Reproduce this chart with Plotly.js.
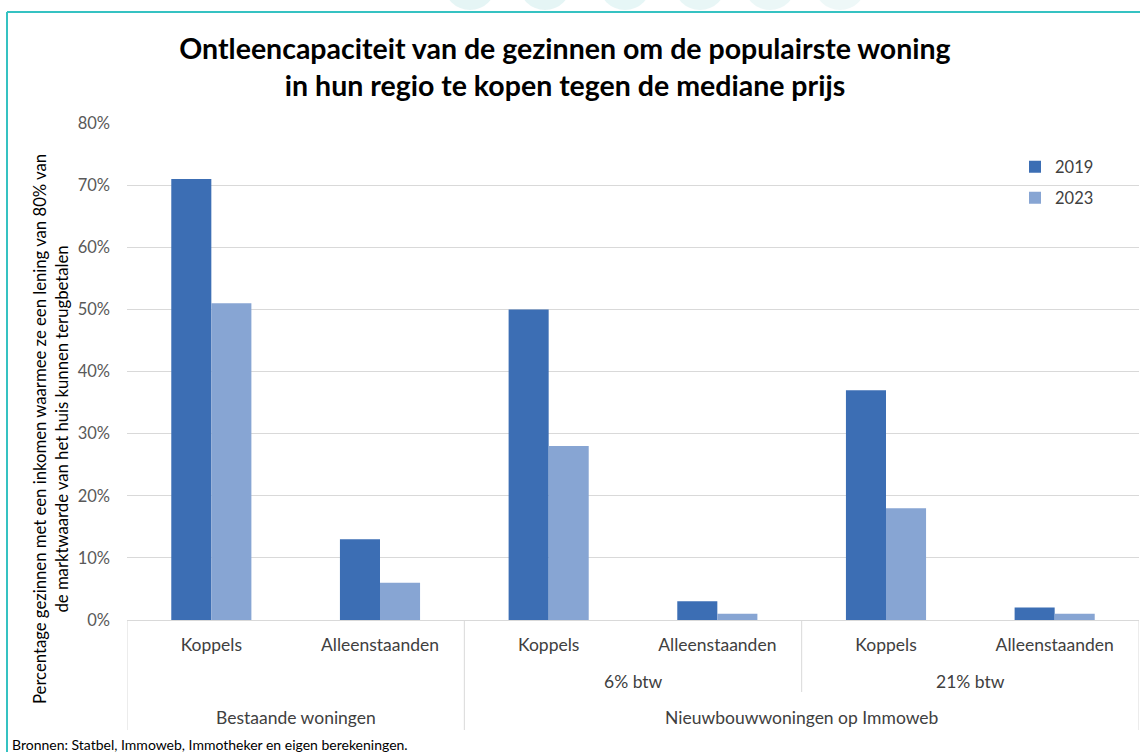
<!DOCTYPE html>
<html>
<head>
<meta charset="utf-8">
<script src="https://cdn.plot.ly/plotly-3.0.1.min.js"></script>
<style>
  html, body { margin: 0; padding: 0; background: #ffffff; }
  #chart { width: 1140px; height: 752px; }
</style>
</head>
<body>
<div id="chart"></div>
<script>
// ---- data ----
const categories = ["Koppels", "Alleenstaanden", "Koppels", "Alleenstaanden", "Koppels", "Alleenstaanden"];
const subGroups = ["6% btw", "21% btw"];
const mainGroups = ["Bestaande woningen", "Nieuwbouwwoningen op Immoweb"];
const seriesNames = ["2019", "2023"];
const values2019 = [71, 13, 50, 3, 37, 2];
const values2023 = [51, 6, 28, 1, 18, 1];
const yTickVals = [0, 10, 20, 30, 40, 50, 60, 70, 80];
const yTickLabels = ["0%", "10%", "20%", "30%", "40%", "50%", "60%", "70%", "80%"];
const titleText = "Ontleencapaciteit van de gezinnen om de populairste woning<br>in hun regio te kopen tegen de mediane prijs";
const yTitleText = "Percentage gezinnen met een inkomen waarmee ze een lening van 80% van<br>de marktwaarde van het huis kunnen terugbetalen";
const sourceText = "Bronnen: Statbel, Immoweb, Immotheker en eigen berekeningen.";

// ---- geometry helpers (pixel -> paper) ----
const L = 127, R = 1139, T = 123, B = 620;
const px = x => (x - L) / (R - L);
const py = y => (B - y) / (B - T);

const idx = categories.map((c, i) => i);
const FONT = "Lato, 'Open Sans', sans-serif";
const textCol = "#404040";
const gridCol = "#d9d9d9";
const catSize = 17.5;

const traces = [
  { type: "bar", name: seriesNames[0], x: idx, y: values2019,
    marker: { color: "#3C6EB4" }, legend: "legend", hoverinfo: "y" },
  { type: "bar", name: seriesNames[1], x: idx, y: values2023,
    marker: { color: "#87A5D3" }, legend: "legend2", hoverinfo: "y" }
];

const shapes = [];
// category dividers below the axis
[[-0.5, 730], [1.5, 730], [3.5, 692], [5.5, 730]].forEach(([xv, yb]) => {
  shapes.push({ type: "line", xref: "x", yref: "paper", x0: xv, x1: xv,
    y0: 0, y1: py(yb), line: { color: gridCol, width: 1 } });
});
// teal frame
shapes.push({ type: "line", xref: "paper", yref: "paper", x0: px(7), x1: px(1140), y0: py(12), y1: py(12),
  line: { color: "#35C2C2", width: 2 } });
shapes.push({ type: "line", xref: "paper", yref: "paper", x0: px(7), x1: px(7), y0: py(12), y1: py(752),
  line: { color: "#35C2C2", width: 2 } });
// faint watermark blobs on top
[[470, 0.9], [545, 0.9], [625, 0.85], [700, 0.8], [770, 0.7], [840, 0.6]].forEach(([cx, op]) => {
  shapes.push({ type: "circle", xref: "paper", yref: "paper", layer: "below",
    x0: px(cx - 26), x1: px(cx + 26), y0: py(10), y1: py(-42),
    fillcolor: "#e2f4f4", opacity: op, line: { width: 0 } });
});

const annFont = { family: FONT, size: catSize, color: textCol };
const annotations = [
  { text: subGroups[0], xref: "x", yref: "paper", x: 2.5, y: py(681), xanchor: "center", yanchor: "middle",
    showarrow: false, font: annFont },
  { text: subGroups[1], xref: "x", yref: "paper", x: 4.5, y: py(681), xanchor: "center", yanchor: "middle",
    showarrow: false, font: annFont },
  { text: mainGroups[0], xref: "x", yref: "paper", x: 0.5, y: py(717), xanchor: "center", yanchor: "middle",
    showarrow: false, font: annFont },
  { text: mainGroups[1], xref: "x", yref: "paper", x: 3.5, y: py(717), xanchor: "center", yanchor: "middle",
    showarrow: false, font: annFont },
  { text: yTitleText, xref: "paper", yref: "paper", x: px(51), y: py(429), textangle: -90,
    xanchor: "center", yanchor: "middle",
    showarrow: false, font: { family: FONT, size: 16.7, color: "#000000" } },
  { text: sourceText, xref: "paper", yref: "paper", x: px(10), y: py(744), xanchor: "left",
    yanchor: "middle", showarrow: false, font: { family: FONT, size: 14, color: "#000000" } }
];

const layout = {
  width: 1140, height: 752,
  margin: { l: L, r: 1140 - R, t: T, b: 752 - B },
  paper_bgcolor: "#ffffff", plot_bgcolor: "#ffffff",
  font: { family: FONT, color: textCol },
  title: { text: titleText, xref: "container", yref: "container", x: 565 / 1140, xanchor: "center",
    y: 1 - 59 / 752, yanchor: "top",
    font: { family: FONT, size: 28.5, weight: 700, color: "#000000" } },
  barmode: "group", bargap: 0.525, bargroupgap: 0,
  xaxis: { range: [-0.5, 5.5], tickmode: "array", tickvals: idx, ticktext: categories,
    showgrid: false, zeroline: false, showline: true, linecolor: gridCol, linewidth: 1,
    ticks: "", ticklabelstandoff: 9, tickfont: { family: FONT, size: catSize, color: textCol },
    fixedrange: true },
  yaxis: { range: [0, 80], tickmode: "array", tickvals: yTickVals, ticktext: yTickLabels,
    showgrid: true, gridcolor: gridCol, gridwidth: 1, zeroline: false, showline: false,
    ticks: "", ticklabelstandoff: 16, tickfont: { family: FONT, size: 16.5, color: "#595959" },
    fixedrange: true },
  showlegend: true,
  legend: { x: px(1015), xanchor: "left", y: py(167), yanchor: "middle",
    bgcolor: "rgba(0,0,0,0)", font: { family: FONT, size: 16.5, color: textCol } },
  legend2: { x: px(1015), xanchor: "left", y: py(198), yanchor: "middle",
    bgcolor: "rgba(0,0,0,0)", font: { family: FONT, size: 16.5, color: textCol } },
  shapes: shapes,
  annotations: annotations
};

Plotly.newPlot("chart", traces, layout, { displayModeBar: false });
</script>
</body>
</html>
